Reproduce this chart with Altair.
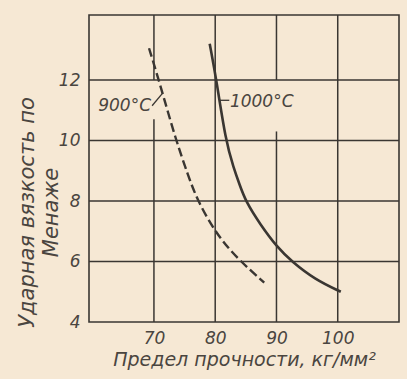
import altair as alt
import pandas as pd

# --- data ---
x_900 = [69.2, 70.8, 73.6, 75.5, 77.0, 80.2, 83.6, 88.0]
y_900 = [13.05, 12.0, 10.0, 8.9, 8.05, 6.9, 6.1, 5.3]
x_1000 = [79.1, 80.2, 81.7, 83.0, 84.0, 84.95, 87.3, 90.2, 92.5, 96.3, 100.5]
y_1000 = [13.2, 12.0, 10.0, 9.1, 8.53, 8.0, 7.24, 6.45, 6.0, 5.4, 5.0]

x_ticks = [70, 80, 90, 100]
y_ticks = [4, 6, 8, 10, 12]

# vertical grid segments (gaps behind the curve labels)
vgrid_x = [70, 70, 80, 90, 90, 100]
vgrid_y1 = [4, 12, 4, 4, 12, 4]
vgrid_y2 = [10.7, 14.15, 14.15, 10.3, 14.15, 14.15]
hgrid_y = [6, 8, 10, 12]

label_text = ["900°C", "1000°C"]
label_x = [60.9, 82.4]
label_y = [11.15, 11.28]

leader_x1 = [69.7, 80.75]
leader_y1 = [11.15, 11.33]
leader_x2 = [71.35, 82.3]
leader_y2 = [11.55, 11.33]

bg = "#f6e8d4"
ink = "#3a3632"
txt = "#4a4540"
font = "DejaVu Sans"

curve900 = pd.DataFrame({"x": x_900, "y": y_900})
curve1000 = pd.DataFrame({"x": x_1000, "y": y_1000})
vgrid = pd.DataFrame({"x": vgrid_x, "y": vgrid_y1, "y2": vgrid_y2})
hgrid = pd.DataFrame({"y": hgrid_y})
labels = pd.DataFrame({"x": label_x, "y": label_y, "t": label_text})
leaders = pd.DataFrame({"x": leader_x1, "y": leader_y1, "x2": leader_x2, "y2": leader_y2})

x_scale = alt.Scale(domain=[59.4, 110], nice=False, zero=False)
y_scale = alt.Scale(domain=[4, 14.15], nice=False, zero=False)

x_axis = alt.Axis(
    values=x_ticks, title="Предел прочности, кг/мм²", grid=False, domain=False,
    ticks=False, labelFont=font, labelFontStyle="italic", labelFontSize=17,
    labelColor=txt, labelPadding=8, titleFont=font, titleFontStyle="italic",
    titleFontSize=19, titleFontWeight="normal", titleColor=txt, titlePadding=4,
)
y_axis = alt.Axis(
    values=y_ticks, title=["Ударная вязкость по", "Менаже"], grid=False,
    domain=False, ticks=False, labelFont=font, labelFontStyle="italic",
    labelFontSize=17, labelColor=txt, labelPadding=9, titleFont=font,
    titleFontStyle="italic", titleFontSize=21, titleFontWeight="normal",
    titleColor=txt, titleX=-52, titleY=197, titleAlign="center",
    titleBaseline="bottom", titleLineHeight=24,
)

X = lambda f: alt.X(f, type="quantitative", scale=x_scale, axis=x_axis)
Y = lambda f: alt.Y(f, type="quantitative", scale=y_scale, axis=y_axis)

vg = alt.Chart(vgrid).mark_rule(color=ink, strokeWidth=1.5).encode(
    x=X("x"), y=Y("y"), y2="y2")
hg = alt.Chart(hgrid).mark_rule(color=ink, strokeWidth=1.5).encode(y=Y("y"))

c900 = alt.Chart(curve900).mark_line(
    color=ink, strokeWidth=2.4, strokeDash=[9, 4], interpolate="basis"
).encode(x=X("x"), y=Y("y"))
c1000 = alt.Chart(curve1000).mark_line(
    color=ink, strokeWidth=2.6, interpolate="basis"
).encode(x=X("x"), y=Y("y"))

ld = alt.Chart(leaders).mark_rule(color=ink, strokeWidth=1.3).encode(
    x=X("x"), y=Y("y"), x2="x2", y2="y2")

lb = alt.Chart(labels).mark_text(
    align="left", baseline="middle", font=font, fontStyle="italic",
    fontSize=17, color=txt
).encode(x=X("x"), y=Y("y"), text="t")

chart = alt.layer(vg, hg, c900, c1000, ld, lb).properties(
    width=310, height=307,
    autosize=alt.AutoSizeParams(type="none"),
    padding={"left": 89, "top": 15, "right": 8, "bottom": 57},
    background=bg,
).configure_view(stroke=ink, strokeWidth=1.6)

chart.save("out.html", embed_options={"renderer": "svg", "actions": False})
